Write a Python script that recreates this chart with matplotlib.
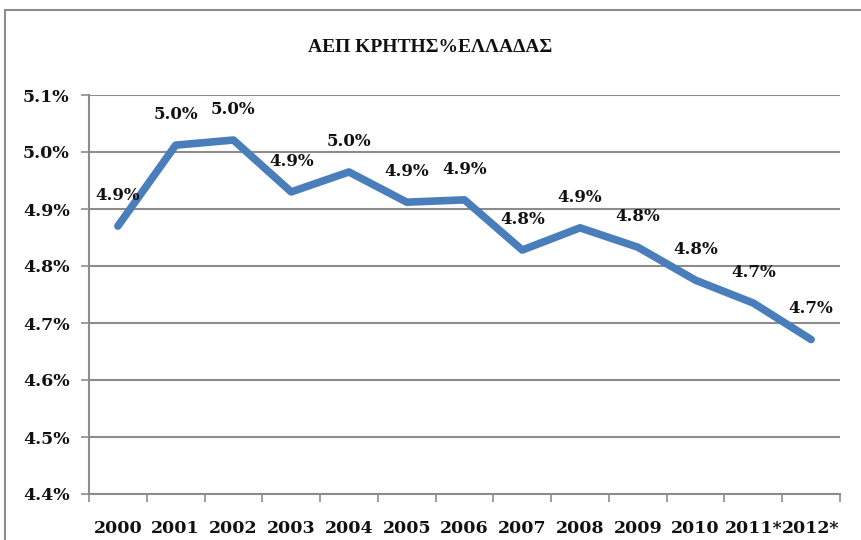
import matplotlib
matplotlib.use("Agg")
import matplotlib.pyplot as plt
from matplotlib.patches import Rectangle
from matplotlib.ticker import FuncFormatter, FixedLocator

# data (share of Greek GDP, %)
years = ["2000", "2001", "2002", "2003", "2004", "2005", "2006",
         "2007", "2008", "2009", "2010", "2011*", "2012*"]
share = [4.870, 5.012, 5.021, 4.930, 4.965, 4.912, 4.916,
         4.828, 4.867, 4.833, 4.775, 4.735, 4.671]
title = "ΑΕΠ ΚΡΗΤΗΣ%ΕΛΛΑΔΑΣ"

line_color = "#4A7EBB"
grid_color = "#8C8C8C"
num_font = "DejaVu Serif"

fig = plt.figure(figsize=(8.61, 5.40), dpi=100)
ax = fig.add_axes([89 / 861, 1 - 494 / 540, (840 - 89) / 861, (494 - 95) / 540])

# outer chart border
fig.patches.append(Rectangle((5 / 861, -0.1), 2, 1 - 10 / 540 + 0.1,
                             transform=fig.transFigure, fill=False,
                             edgecolor="#8C8C8C", linewidth=1.5))

x = list(range(len(years)))
ax.plot(x, share, color=line_color, linewidth=5.5,
        solid_capstyle="round", solid_joinstyle="round", zorder=3)

for xi, v in zip(x, share):
    ax.annotate(f"{v:.1f}%", (xi, v), xytext=(0, 22), textcoords="offset points",
                ha="center", va="center", fontsize=12, fontweight="bold",
                family=num_font, color="#111111", zorder=4)

ax.set_ylim(4.4, 5.1)
ax.set_xlim(-0.5, len(years) - 0.5)
ax.set_yticks([4.4 + 0.1 * i for i in range(8)])
ax.yaxis.set_major_formatter(FuncFormatter(lambda v, p: f"{v:.1f}%"))
ax.grid(axis="y", color=grid_color, linewidth=1.5, zorder=1)

ax.set_xticks(x)
ax.set_xticklabels(years)
ax.xaxis.set_minor_locator(FixedLocator([i - 0.5 for i in range(len(years) + 1)]))
ax.tick_params(axis="x", which="major", length=0, pad=19)
ax.tick_params(axis="x", which="minor", length=6, width=1.2, color=grid_color, direction="out")
ax.tick_params(axis="y", length=6, width=1.2, color=grid_color, pad=8)

for lab in ax.get_xticklabels() + ax.get_yticklabels():
    lab.set_fontfamily(num_font)
    lab.set_fontweight("bold")
    lab.set_fontsize(12.5)
    lab.set_color("#111111")

for side in ["top", "right"]:
    ax.spines[side].set_visible(False)
for side in ["left", "bottom"]:
    ax.spines[side].set_color(grid_color)
    ax.spines[side].set_linewidth(1.5)

fig.text(0.5, 1 - 47 / 540, title, ha="center", va="center",
         fontsize=14, fontweight="bold", family="Liberation Serif", color="#111111")

fig.savefig("out.png", dpi=100, facecolor="white")
